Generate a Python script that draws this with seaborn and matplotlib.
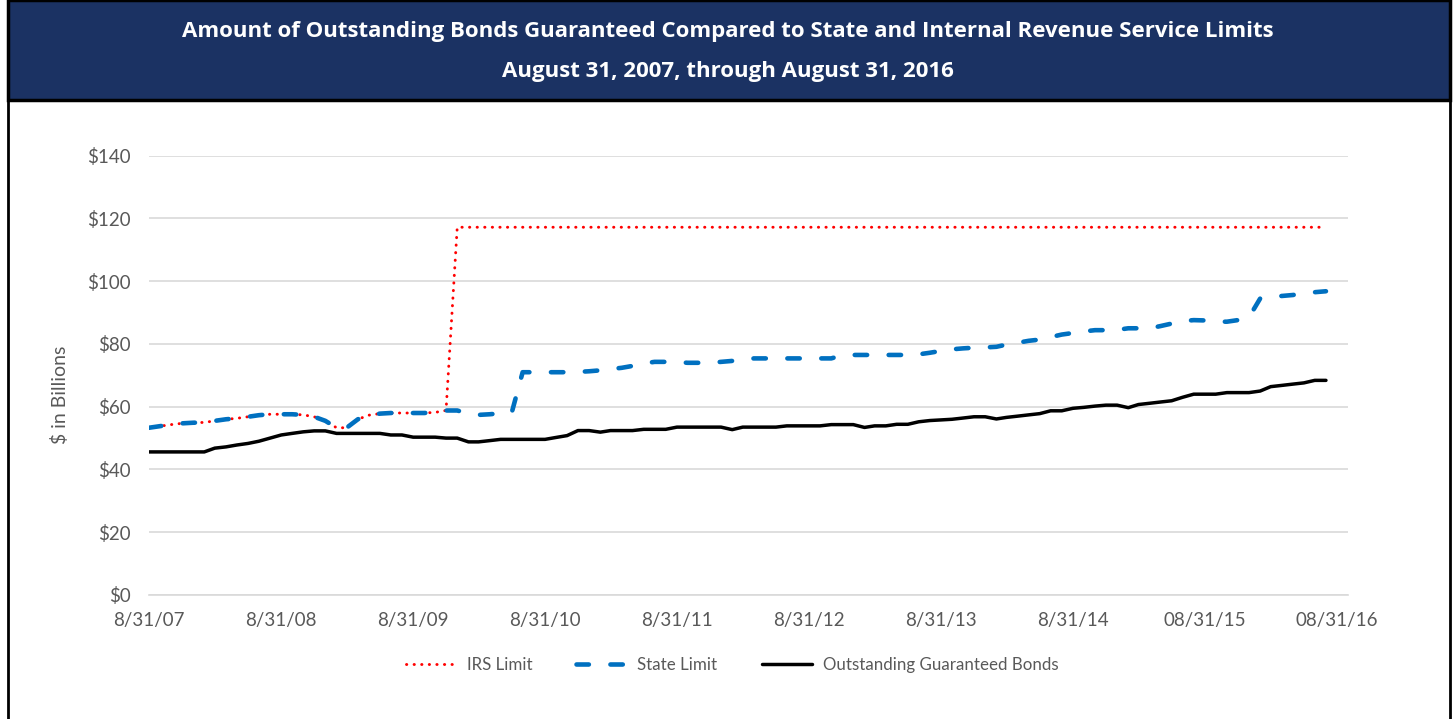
import pandas as pd
import matplotlib.pyplot as plt
import matplotlib.patches as patches
from matplotlib.lines import Line2D
import seaborn as sns

# monthly values, $ billions, 8/31/07 .. 7/31/16
bonds = [45.6, 45.6, 45.6, 45.6, 45.6, 45.6, 46.8, 47.2, 47.8, 48.3,
         49.0, 50.0, 51.0, 51.5, 52.0, 52.3, 52.3, 51.5, 51.5, 51.5,
         51.5, 51.5, 51.0, 51.0, 50.3, 50.3, 50.3, 50.0, 50.0, 48.8,
         48.8, 49.2, 49.6, 49.6, 49.6, 49.6, 49.6, 50.2, 50.8, 52.4,
         52.4, 51.9, 52.4, 52.4, 52.4, 52.8, 52.8, 52.8, 53.5, 53.5,
         53.5, 53.5, 53.5, 52.7, 53.5, 53.5, 53.5, 53.5, 53.9, 53.9,
         53.9, 53.9, 54.3, 54.3, 54.3, 53.4, 53.9, 53.9, 54.4, 54.4,
         55.2, 55.6, 55.8, 56.0, 56.4, 56.8, 56.8, 56.1, 56.6, 57.0,
         57.4, 57.8, 58.7, 58.7, 59.5, 59.8, 60.2, 60.5, 60.5, 59.7,
         60.7, 61.1, 61.5, 61.9, 63.0, 64.0, 64.0, 64.0, 64.5, 64.5,
         64.5, 65.0, 66.4, 66.8, 67.2, 67.6, 68.4, 68.4]

state = [53.3, 53.8, 54.3, 54.7, 54.9, 55.0, 55.5, 56.0, 56.3, 56.8,
         57.3, 57.6, 57.6, 57.6, 57.4, 56.8, 55.5, 53.3, 53.3, 56.0,
         57.3, 57.8, 58.0, 58.0, 58.0, 58.0, 58.2, 58.8, 58.8, 57.8,
         57.4, 57.6, 57.9, 58.2, 71.0, 71.0, 71.0, 71.0, 71.0, 71.1,
         71.3, 71.6, 72.0, 72.4, 73.0, 73.8, 74.3, 74.3, 74.2, 74.0,
         74.0, 74.0, 74.3, 74.6, 75.0, 75.4, 75.4, 75.4, 75.4, 75.4,
         75.4, 75.4, 75.4, 76.4, 76.5, 76.5, 76.5, 76.5, 76.5, 76.5,
         76.7, 77.2, 77.8, 78.3, 78.6, 78.8, 78.9, 79.1, 79.8, 80.4,
         81.0, 81.4, 82.2, 83.0, 83.5, 84.0, 84.4, 84.4, 84.5, 85.0,
         85.0, 85.0, 85.7, 86.5, 87.3, 87.6, 87.5, 87.1, 87.1, 87.6,
         88.5, 94.5, 95.0, 95.3, 95.6, 96.1, 96.5, 96.8]

irs = state[:28] + [117.2] * 80

tick_dates = ["2007-08-31", "2008-08-31", "2009-08-31", "2010-08-31", "2011-08-31",
              "2012-08-31", "2013-08-31", "2014-08-31", "2015-08-31", "2016-08-31"]
tick_labels = ["8/31/07", "8/31/08", "8/31/09", "8/31/10", "8/31/11",
               "8/31/12", "8/31/13", "8/31/14", "08/31/15", "08/31/16"]

df = pd.DataFrame({
    "date": pd.date_range("2007-08-31", periods=len(bonds), freq="ME"),
    "IRS Limit": irs,
    "State Limit": state,
    "Outstanding Guaranteed Bonds": bonds,
})

sns.set_style("white")
plt.rcParams["font.family"] = ["Lato", "DejaVu Sans"]

W, H = 1455, 719
fig = plt.figure(figsize=(W / 100, H / 100), dpi=100)

# title band and frame
fig.add_artist(patches.Rectangle((8 / W, 1 - 100 / H), (1450 - 8) / W, 100 / H,
                                 transform=fig.transFigure, facecolor="#1B3263",
                                 edgecolor="black", linewidth=2.5))
for xp in (8, 1450):
    fig.add_artist(Line2D([xp / W, xp / W], [0, 1], transform=fig.transFigure,
                          color="black", linewidth=2))
fig.text(0.5, 1 - 31 / H, "Amount of Outstanding Bonds Guaranteed Compared to State and Internal Revenue Service Limits",
         color="white", fontsize=16, fontweight="bold", ha="center", va="center",
         family="Open Sans")
fig.text(0.5, 1 - 72 / H, "August 31, 2007, through August 31, 2016",
         color="white", fontsize=16, fontweight="bold", ha="center", va="center",
         family="Open Sans")

ax = fig.add_axes([149 / W, 1 - 595 / H, (1348 - 149) / W, (595 - 155.7) / H])

sns.lineplot(data=df, x="date", y="IRS Limit", ax=ax, color="#FF0000", linewidth=2.1,
             linestyle=(0, (0.1, 2.5)), dash_capstyle="round", label="IRS Limit")
sns.lineplot(data=df, x="date", y="State Limit", ax=ax, color="#0070C0", linewidth=3.3,
             linestyle=(0, (2.7, 4.7)), dash_capstyle="round", label="State Limit")
sns.lineplot(data=df, x="date", y="Outstanding Guaranteed Bonds", ax=ax, color="black",
             linewidth=2.5, solid_capstyle="round", label="Outstanding Guaranteed Bonds")

ax.set_ylim(0, 140)
ax.set_yticks(range(0, 141, 20))
ax.set_yticklabels([f"${v}" for v in range(0, 141, 20)])
ax.set_xlim(pd.Timestamp("2007-08-31"), pd.Timestamp("2016-09-30"))
ax.set_xticks(pd.to_datetime(tick_dates))
ax.set_xticklabels(tick_labels)
ax.set_xlabel("")
ax.set_ylabel("")
ax.grid(axis="y", color="#D9D9D9", linewidth=1.2)
ax.set_axisbelow(True)
for s in ("top", "right", "left"):
    ax.spines[s].set_visible(False)
ax.spines["bottom"].set_color("#D9D9D9")
ax.spines["bottom"].set_linewidth(1.2)
ax.tick_params(axis="x", colors="#D9D9D9", labelcolor="#595959", labelsize=13.5,
               length=5, width=1.2, direction="out", pad=7)
ax.tick_params(axis="y", colors="#595959", labelsize=13.5, length=0, pad=13)

fig.text(60 / W, 1 - 395 / H, "$ in Billions", rotation=90, color="#595959",
         fontsize=14, ha="center", va="center")

leg = ax.legend(loc="center", bbox_to_anchor=(732 / W, 1 - 665 / H),
                bbox_transform=fig.transFigure, ncol=3, frameon=False,
                fontsize=12.2, handlelength=3.0, handletextpad=0.6,
                columnspacing=2.6)
for t in leg.get_texts():
    t.set_color("#595959")

fig.savefig("out.png", dpi=100)
